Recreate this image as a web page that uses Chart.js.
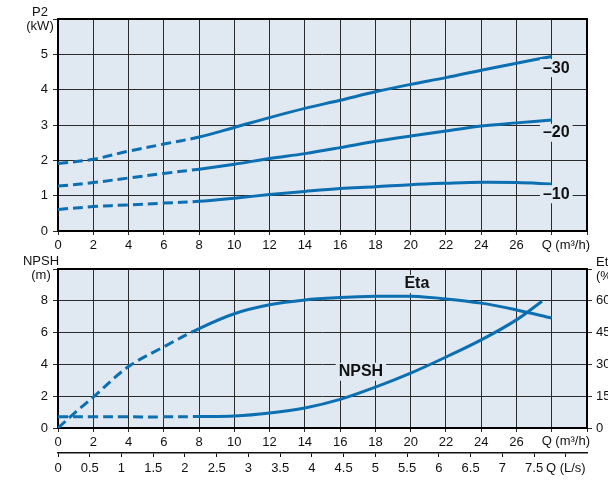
<!DOCTYPE html>
<html>
<head>
<meta charset="utf-8">
<script src="https://cdn.jsdelivr.net/npm/chart.js@4.4.1/dist/chart.umd.min.js"></script>
<style>
  body { margin: 0; width: 608px; height: 480px; overflow: hidden; background: #fff; position: relative; font-family: "Liberation Sans", Arial, sans-serif; }
  canvas { position: absolute; left: 0; }
  #potencia { top: 0; }
  #npsh { top: 250px; }
  .unidad { position: absolute; font-size: 13px; line-height: 14px; color: #111; text-align: center; width: 50px; }
</style>
</head>
<body>
<canvas id="potencia" width="608" height="252"></canvas>
<canvas id="npsh" width="608" height="230"></canvas>
<div class="unidad" style="left:15px;top:5px">P2<br>(kW)</div>
<div class="unidad" style="left:16px;top:254px">NPSH<br>(m)</div>
<div class="unidad" style="left:596px;top:255px;text-align:left">Eta<br>(%)</div>
<script>
const FONT = '"Liberation Sans", Arial, sans-serif';
const AZUL = '#0b6fb1';
const FONDO = '#e0e8f2';
const REJILLA = '#2b2b2b';

// Caudal Q (m3/h) para las curvas de potencia
const q = [0, 2, 4, 6, 8, 10, 12, 14, 16, 18, 20, 22, 24, 26, 28];
// P2 (kW) para cada rodete
const p2_30 = [1.91, 2.03, 2.26, 2.46, 2.66, 2.93, 3.21, 3.47, 3.70, 3.94, 4.15, 4.34, 4.55, 4.75, 4.94];
const p2_20 = [1.27, 1.37, 1.50, 1.63, 1.75, 1.89, 2.05, 2.19, 2.36, 2.54, 2.69, 2.83, 2.97, 3.06, 3.14];
const p2_10 = [0.61, 0.69, 0.74, 0.79, 0.84, 0.93, 1.03, 1.12, 1.20, 1.25, 1.31, 1.35, 1.38, 1.37, 1.33];

// Rendimiento (%)
const qEta = [0, 1, 2, 4, 6, 8, 10, 12, 14, 16, 18, 20, 22, 24, 26, 28];
const eta = [0, 7.5, 14.6, 29.0, 38.3, 46.9, 53.9, 58.1, 60.4, 61.5, 62.1, 62.1, 60.9, 58.9, 55.7, 51.9];

// NPSH (m)
const qNpsh = [0, 2, 4, 6, 8, 10, 12, 14, 16, 18, 20, 22, 24, 26, 27.45];
const npsh = [0.7, 0.7, 0.7, 0.7, 0.72, 0.75, 0.94, 1.26, 1.8, 2.57, 3.45, 4.46, 5.54, 6.8, 7.97];

// Etiquetas de ejes
const ultimoTickQ = 26;
const unidadQ = 'Q (m³/h)';
const unidadLs = 'Q (L/s)';
const nombresRodete = ['–30', '–20', '–10'];

const puntos = (xs, ys) => xs.map((x, i) => ({ x, y: ys[i] }));

// tramo discontinuo hasta Q = 8
const curva = (data, extra = {}) => ({
    data,
    borderColor: AZUL,
    borderWidth: 3,
    pointRadius: 0,
    tension: 0.35,
    segment: { borderDash: ctx => ctx.p1.parsed.x <= 8 ? [10, 5] : undefined },
    ...extra
});

// fondo del área, marco y textos sobre el gráfico
const marco = {
    id: 'marco',
    beforeDraw(chart) {
        const { ctx, chartArea: a } = chart;
        ctx.save();
        ctx.fillStyle = FONDO;
        ctx.fillRect(a.left, a.top, a.right - a.left, a.bottom - a.top);
        ctx.restore();
    },
    beforeDatasetsDraw(chart) {
        const { ctx, chartArea: a } = chart;
        ctx.save();
        ctx.strokeStyle = '#000';
        ctx.lineWidth = 2;
        ctx.strokeRect(a.left, a.top, a.right - a.left, a.bottom - a.top);
        ctx.restore();
    },
    afterDraw(chart, args, opts) {
        const { ctx } = chart;
        (opts.textos || []).forEach(t => {
            const px = chart.scales.x.getPixelForValue(t.x);
            const py = chart.scales.y.getPixelForValue(t.y);
            ctx.save();
            ctx.font = t.font;
            ctx.textBaseline = 'middle';
            ctx.textAlign = t.align || 'center';
            if (t.fondo) {
                const w = ctx.measureText(t.text).width;
                const x0 = t.align === 'left' ? px : px - w / 2;
                ctx.fillStyle = FONDO;
                ctx.fillRect(x0 - 3, py - 9, w + 6, 18);
            }
            ctx.fillStyle = '#111';
            ctx.fillText(t.text, px, py);
            ctx.restore();
        });
    }
};

const ticks = (extra = {}) => ({ color: '#111', font: { family: FONT, size: 13 }, maxRotation: 0, autoSkip: false, ...extra });

const ejeQ = alto => ({
    type: 'linear', min: 0, max: 30,
    ticks: ticks({ stepSize: 2, padding: 3, callback: v => v > ultimoTickQ ? '' : v }),
    grid: { color: REJILLA, tickLength: 4 },
    border: { display: false },
    afterFit: s => { s.height = alto; }
});

const negrita = `bold 16px ${FONT}`;
const normal = `13px ${FONT}`;

new Chart(document.getElementById('potencia'), {
    type: 'line',
    data: {
        datasets: [
            curva(puntos(q, p2_30)),
            curva(puntos(q, p2_20)),
            curva(puntos(q, p2_10))
        ]
    },
    options: {
        responsive: false,
        animation: false,
        layout: { padding: { top: 19, right: 21, left: 0, bottom: 0 } },
        scales: {
            x: ejeQ(21),
            y: {
                min: 0, max: 6,
                ticks: ticks({ stepSize: 1, padding: 5, callback: v => v === 6 ? '' : v }),
                grid: { color: REJILLA, tickLength: 5 },
                border: { display: false },
                afterFit: s => { s.width = 58; }
            }
        },
        plugins: {
            legend: { display: false },
            tooltip: { enabled: false },
            marco: {
                textos: [
                    { x: 27.5, y: 4.61, text: nombresRodete[0], font: negrita, align: 'left', fondo: true },
                    { x: 27.5, y: 2.78, text: nombresRodete[1], font: negrita, align: 'left', fondo: true },
                    { x: 27.5, y: 1.04, text: nombresRodete[2], font: negrita, align: 'left', fondo: true },
                    { x: 28.8, y: -0.40, text: unidadQ, font: normal }
                ]
            }
        }
    },
    plugins: [marco]
});

new Chart(document.getElementById('npsh'), {
    type: 'line',
    data: {
        datasets: [
            curva(puntos(qEta, eta), { yAxisID: 'y2' }),
            curva(puntos(qNpsh, npsh))
        ]
    },
    options: {
        responsive: false,
        animation: false,
        layout: { padding: { top: 19, right: 0, left: 0, bottom: 0 } },
        scales: {
            x: ejeQ(25),
            x2: {
                type: 'linear', position: 'bottom', weight: 1,
                min: 0, max: 30 / 3.6,
                ticks: ticks({ stepSize: 0.5, padding: 4, includeBounds: false, callback: v => v === 8 ? unidadLs : v }),
                grid: { drawOnChartArea: false, color: '#111', tickLength: 4 },
                border: { display: true, color: '#111', width: 1.5 },
                afterFit: s => { s.height = 27; }
            },
            y: {
                min: 0, max: 10,
                ticks: ticks({ stepSize: 2, padding: 5, callback: v => v === 10 ? '' : v }),
                grid: { color: REJILLA, tickLength: 5 },
                border: { display: false },
                afterFit: s => { s.width = 58; }
            },
            y2: {
                position: 'right',
                min: 0, max: 75,
                ticks: ticks({ stepSize: 15, padding: 4, callback: v => v === 75 ? '' : v }),
                grid: { drawOnChartArea: false, color: REJILLA, tickLength: 5 },
                border: { display: false },
                afterFit: s => { s.width = 21; }
            }
        },
        plugins: {
            legend: { display: false },
            tooltip: { enabled: false },
            marco: {
                textos: [
                    { x: 20.35, y: 9.06, text: 'Eta', font: negrita, fondo: true },
                    { x: 17.18, y: 3.54, text: 'NPSH', font: negrita, fondo: true },
                    { x: 28.8, y: -0.84, text: unidadQ, font: normal }
                ]
            }
        }
    },
    plugins: [marco]
});
</script>
</body>
</html>
